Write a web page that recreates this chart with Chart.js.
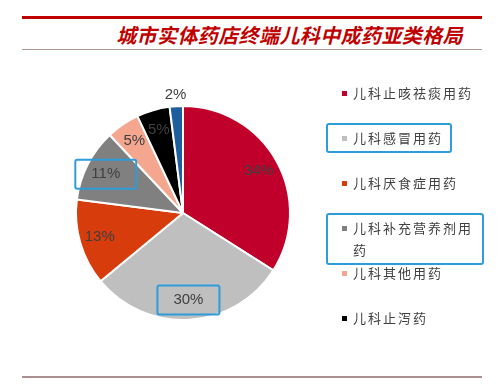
<!DOCTYPE html>
<html>
<head>
<meta charset="utf-8">
<script src="https://cdn.jsdelivr.net/npm/chart.js@4/dist/chart.umd.min.js"></script>
<style>
    body { margin: 0; background: #fff; }
    #wrap { position: relative; width: 500px; height: 384px; overflow: hidden; font-family: "Noto Sans CJK SC", sans-serif; }
    #chart { position: absolute; left: 0; top: 0; }
    .rule { position: absolute; left: 22px; width: 460px; }
    #rule-top { top: 16px; height: 3px; background: #c00000; }
    #rule-mid { top: 49px; height: 1px; background: #b39494; }
    #rule-bot { top: 376px; height: 2px; background: #aa9090; }
    #title { position: absolute; right: 37px; top: 21px; font-size: 20px; line-height: 28px; font-weight: bold; font-style: italic; color: #c00000; letter-spacing: 0.4px; }
    #legend { position: absolute; left: 340px; top: 82px; width: 150px; margin: 0; padding: 0; list-style: none; }
    #legend li { position: relative; height: 45px; }
    #legend .mk { position: absolute; left: 2px; top: 9px; width: 5px; height: 5px; }
    #legend .tx { position: absolute; left: 13px; top: 0; width: max-content; max-width: 122px; font-size: 13px; line-height: 22px; letter-spacing: 2px; color: #404040; }
    #legend .hl .tx::before { content: ""; position: absolute; left: -27px; right: -9px; top: -4px; bottom: -4px; border: 2px solid #2e9bda; border-radius: 3px; }
</style>
</head>
<body>
<div id="wrap">
    <div class="rule" id="rule-top"></div>
    <div id="title">城市实体药店终端儿科中成药亚类格局</div>
    <div class="rule" id="rule-mid"></div>
    <canvas id="chart" width="500" height="384"></canvas>
    <ul id="legend"></ul>
    <div class="rule" id="rule-bot"></div>
</div>
<script>
// Data
var categories = ["儿科止咳祛痰用药", "儿科感冒用药", "儿科厌食症用药", "儿科补充营养剂用药", "儿科其他用药", "儿科止泻药", "其他"]
var shares = [34, 30, 13, 11, 5, 5, 2]
var colors = ["#c0002b", "#bfbfbf", "#d63c0c", "#808080", "#f5a68f", "#000000", "#1f5e9e"]
var legendCount = 6          // last slice has no legend entry
var highlighted = [1, 3]     // blue boxes drawn by hand on the original

// Percent labels drawn onto the slices
var sliceLabels = {
    id: "sliceLabels",
    afterDatasetsDraw: function(chart) {
        var ctx = chart.ctx
        var meta = chart.getDatasetMeta(0)
        ctx.save()
        ctx.font = "15px 'Liberation Sans', Arial, sans-serif"
        ctx.fillStyle = "#404040"
        ctx.textAlign = "center"
        ctx.textBaseline = "middle"
        meta.data.forEach(function(arc, i) {
            var p = arc.getProps(["x", "y", "startAngle", "endAngle", "outerRadius"], true)
            var mid = (p.startAngle + p.endAngle) / 2
            var k = shares[i] < 3 ? 1.11 : 0.81
            var x = p.x + Math.cos(mid) * p.outerRadius * k
            var y = p.y + Math.sin(mid) * p.outerRadius * k
            var txt = shares[i] + "%"
            ctx.fillText(txt, x, y)
            if (highlighted.indexOf(i) >= 0) {
                var w = ctx.measureText(txt).width + 32
                ctx.strokeStyle = "#2e9bda"
                ctx.lineWidth = 2
                ctx.beginPath()
                ctx.roundRect(x - w / 2, y - 14, w, 29, 2)
                ctx.stroke()
            }
        })
        ctx.restore()
    }
}

new Chart(document.getElementById("chart"), {
    type: "pie",
    data: {
        labels: categories,
        datasets: [{
            data: shares,
            backgroundColor: colors,
            borderColor: "#ffffff",
            borderWidth: 2
        }]
    },
    options: {
        responsive: false,
        animation: false,
        layout: { padding: { left: 75, right: 209, top: 105, bottom: 63 } },
        plugins: {
            legend: { display: false },
            tooltip: { enabled: false }
        }
    },
    plugins: [sliceLabels]
})

// HTML legend
var ul = document.getElementById("legend")
for (var i = 0; i < legendCount; i++) {
    var li = document.createElement("li")
    if (highlighted.indexOf(i) >= 0) li.className = "hl"
    var mk = document.createElement("span")
    mk.className = "mk"
    mk.style.background = colors[i]
    var tx = document.createElement("span")
    tx.className = "tx"
    tx.textContent = categories[i]
    li.appendChild(mk)
    li.appendChild(tx)
    ul.appendChild(li)
}
</script>
</body>
</html>
